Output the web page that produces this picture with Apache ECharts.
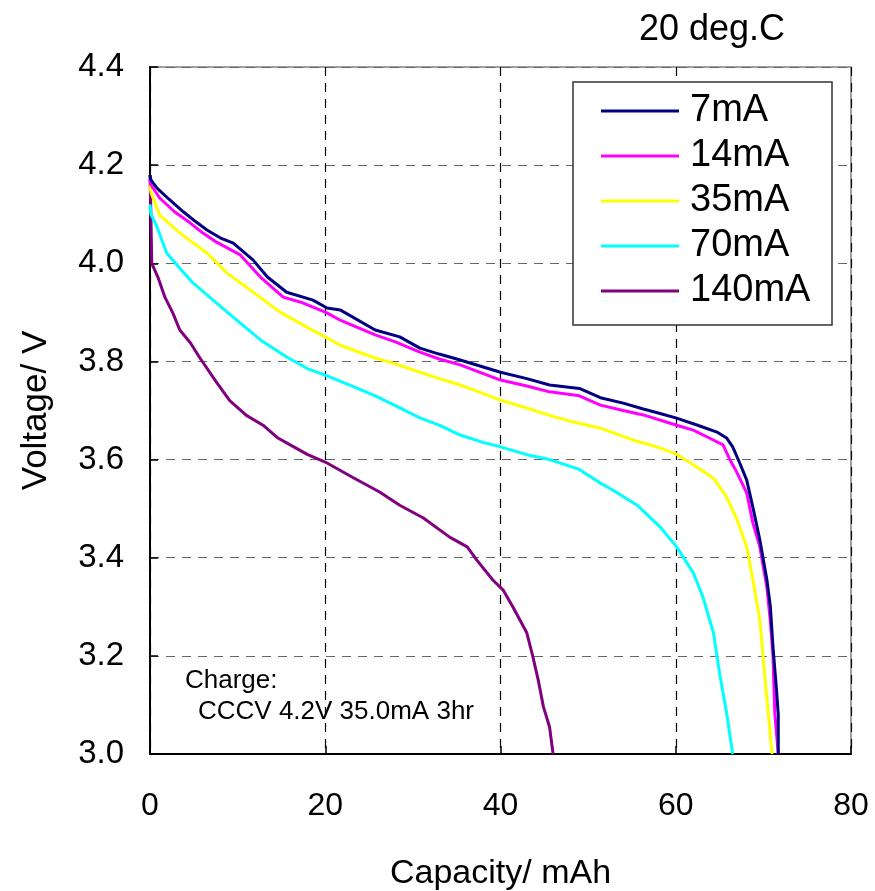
<!DOCTYPE html>
<html><head><meta charset="utf-8">
<script src="https://cdn.jsdelivr.net/npm/echarts@6/dist/echarts.min.js"></script>
<style>html,body{margin:0;padding:0;background:#fff}#c{width:875px;height:891px}</style>
</head><body><div id="c"></div>
<script>
const seriesNames = ['7mA','14mA','35mA','70mA','140mA'];
const seriesColors = ['#000080','#FF00FF','#FFFF00','#00FFFF','#800080'];
const xTicks = [0,20,40,60,80];
const yTicks = [3.0,3.2,3.4,3.6,3.8,4.0,4.2,4.4];

const d7 = [[0,4.18],[0.1,4.17],[0.8,4.153],[2.2,4.13],[3.8,4.105],[5.2,4.085],[6.5,4.068],[8,4.052],[9.5,4.041],[11.75,4.007],[13.4,3.972],[15.6,3.941],[18.6,3.925],[20.2,3.909],[21.7,3.905],[25.7,3.864],[28.5,3.85],[30.8,3.827],[33,3.815],[35.4,3.803],[40,3.778],[43,3.765],[45.6,3.752],[49,3.745],[51.4,3.726],[54,3.715],[56.3,3.703],[58,3.695],[60,3.685],[62.5,3.67],[64.7,3.656],[65.8,3.644],[66.5,3.626],[67.3,3.593],[68.1,3.558],[68.8,3.503],[69.6,3.436],[70.4,3.355],[70.8,3.3],[71.1,3.218],[71.5,3.13],[71.7,3.08],[71.7,3.0]];
const d14 = [[0,4.17],[0.1,4.16],[1.1,4.133],[2.8,4.105],[4.6,4.082],[6,4.062],[7.6,4.043],[10.3,4.017],[12.6,3.972],[15.2,3.931],[17.5,3.919],[20.2,3.899],[21.7,3.884],[25.7,3.854],[28,3.84],[30.8,3.819],[33,3.805],[35.4,3.793],[40,3.762],[43,3.75],[45.6,3.738],[49,3.73],[51.4,3.711],[54,3.7],[56.3,3.691],[60.1,3.67],[62,3.66],[63.6,3.646],[65.4,3.63],[66.2,3.599],[67,3.573],[68.1,3.532],[68.8,3.471],[69.6,3.422],[70.4,3.34],[70.8,3.27],[71.1,3.198],[71.3,3.084],[71.7,3.0]];
const d35 = [[0,4.16],[0.1,4.145],[1.1,4.098],[3.4,4.062],[6.5,4.021],[8.8,3.98],[11.4,3.946],[14.8,3.901],[17.9,3.87],[20.2,3.848],[21.7,3.833],[25.7,3.807],[28,3.795],[30.8,3.778],[33,3.765],[35.4,3.752],[38,3.735],[40,3.721],[43,3.705],[45.6,3.69],[48,3.678],[51.4,3.664],[55.1,3.64],[58,3.625],[60.1,3.611],[62.4,3.585],[64.3,3.562],[65.8,3.524],[67,3.477],[68.1,3.422],[68.8,3.355],[69.6,3.273],[70.2,3.151],[70.8,3.035],[71,3.0]];
const d70 = [[0,4.12],[0.1,4.1],[0.8,4.074],[1.9,4.021],[3.4,3.99],[4.9,3.96],[7.6,3.919],[10.3,3.878],[12.9,3.84],[15.6,3.809],[18,3.785],[20,3.772],[23,3.75],[25.7,3.73],[28,3.71],[30.8,3.685],[33,3.67],[35.4,3.65],[38,3.635],[40,3.626],[43,3.61],[45.6,3.6],[49,3.58],[51.4,3.552],[52.8,3.538],[55.6,3.507],[58.2,3.463],[60.1,3.422],[62,3.369],[63.1,3.32],[64.3,3.247],[65,3.165],[65.8,3.084],[66.5,3.0]];
const d140 = [[0,4.18],[0.1,4.1],[0.2,4.0],[0.9,3.972],[1.7,3.931],[2.6,3.899],[3.4,3.864],[4.6,3.838],[5.7,3.807],[7.5,3.76],[9.1,3.72],[11,3.69],[12.9,3.67],[14.5,3.645],[16,3.63],[18,3.61],[20,3.595],[23,3.565],[26.2,3.534],[28.5,3.507],[31.2,3.481],[34.2,3.442],[36.2,3.422],[37.3,3.395],[39.1,3.355],[40.3,3.334],[41.4,3.3],[43,3.247],[43.7,3.198],[44.3,3.151],[44.9,3.096],[45.6,3.055],[46,3.0]];
const allData = [d7,d14,d35,d70,d140];

const chart = echarts.init(document.getElementById('c'), null, {renderer:'canvas'});
const FONT = 'Liberation Sans, Arial, sans-serif';
chart.setOption({
  animation:false,
  backgroundColor:'#fff',
  title:{text:'20 deg.C', left:707, top:7, textAlign:'center',
    textStyle:{fontFamily:FONT, fontSize:36, fontWeight:'normal', color:'#000'}},
  grid:{left:150, top:67, width:701, height:687, show:true, borderColor:'#808080', borderWidth:1.5,
    backgroundColor:'transparent', containLabel:false, outerBoundsMode:'none'},
  legend:{
    orient:'vertical', left:601, top:89, z:8,
    data:seriesNames, icon:'rect', itemWidth:78, itemHeight:3, itemGap:1,
    padding:0,
    textStyle:{fontFamily:FONT, fontSize:38, color:'#000', lineHeight:38, padding:[0,0,6,6]}
  },
  xAxis:{type:'value', min:xTicks[0], max:xTicks[xTicks.length-1], interval:20,
    name:'Capacity/ mAh', nameLocation:'middle', nameGap:103,
    nameTextStyle:{fontFamily:FONT, fontSize:34, color:'#000'},
    axisLine:{show:true, onZero:false, lineStyle:{color:'#000', width:2}},
    axisTick:{show:true, inside:true, length:8, lineStyle:{color:'#000', width:1.5}},
    axisLabel:{fontFamily:FONT, fontSize:32, color:'#000', margin:36},
    splitLine:{show:true, lineStyle:{color:'#000', type:[9,7], width:1.2}}
  },
  yAxis:{type:'value', min:yTicks[0], max:yTicks[yTicks.length-1], interval:0.2,
    name:'Voltage/ V', nameLocation:'middle', nameGap:96, nameRotate:90,
    nameTextStyle:{fontFamily:FONT, fontSize:35, color:'#000'},
    axisLine:{show:true, onZero:false, lineStyle:{color:'#000', width:2}},
    axisTick:{show:true, inside:true, length:8, lineStyle:{color:'#000', width:1.5}},
    axisLabel:{fontFamily:FONT, fontSize:33, color:'#000', margin:26,
      formatter:v=>v.toFixed(1)},
    splitLine:{show:true, lineStyle:{color:'#666', type:[9,7], width:1.2}}
  },
  series: seriesNames.map((n,i)=>({
    name:n, type:'line', data:allData[i], showSymbol:false, symbol:'none',
    lineStyle:{color:seriesColors[i], width:3}, itemStyle:{color:seriesColors[i]},
    clip:true, z:10-i
  })),
  graphic:[
    {type:'rect', z:5, shape:{x:573, y:82, width:259, height:243},
      style:{fill:'#fff', stroke:'#333', lineWidth:1.5}},
    {type:'text', left:185, top:668, z:5, style:{text:'Charge:', fontFamily:FONT, fontSize:26, fill:'#000'}},
    {type:'text', left:198, top:699, z:5, style:{text:'CCCV 4.2V 35.0mA 3hr', fontFamily:FONT, fontSize:26, fill:'#000'}}
  ]
});
</script></body></html>
